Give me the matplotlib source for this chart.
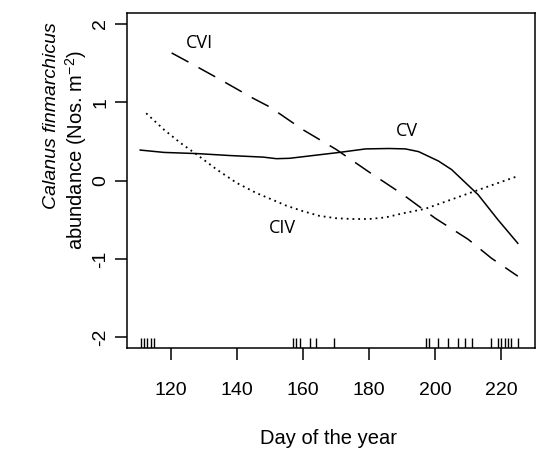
import matplotlib
matplotlib.use("Agg")
import matplotlib.pyplot as plt
import matplotlib.transforms as mtransforms

# ---- data ----
cvi_day = [120.3, 126, 135, 145, 150, 160, 170, 180, 190, 200, 210, 217, 225]
cvi_val = [1.63, 1.50, 1.29, 1.05, 0.94, 0.65, 0.40, 0.11, -0.17, -0.48, -0.75, -0.99, -1.22]

civ_day = [112.6, 118, 123, 128, 134, 140, 146, 150, 155, 160, 165, 170, 175, 180,
           185, 190, 197, 203, 209, 217, 224.5]
civ_val = [0.86, 0.65, 0.48, 0.33, 0.14, -0.03, -0.16, -0.23, -0.32, -0.39, -0.45, -0.48,
           -0.49, -0.49, -0.47, -0.42, -0.36, -0.27, -0.18, -0.06, 0.05]

cv_day = [110.8, 118, 128, 138, 148, 152, 156, 163, 171, 179, 186, 191, 195, 201, 205,
          208, 213, 219, 222, 225]
cv_val = [0.39, 0.36, 0.345, 0.32, 0.30, 0.28, 0.285, 0.32, 0.36, 0.405, 0.41, 0.405,
          0.37, 0.25, 0.14, 0.02, -0.18, -0.50, -0.65, -0.80]

rug_days = [111, 112, 113, 114, 115, 157, 158, 159, 162, 164, 169.5,
            197.2, 198, 201, 204, 207, 209, 211, 217, 219, 220, 221, 222, 223, 225]

x_ticks = [120, 140, 160, 180, 200, 220]
y_ticks = [-2, -1, 0, 1, 2]
y_ticklabels = ["-2", "-1", "0", "1", "2"]

labels = ["CVI", "CV", "CIV"]
label_pos = [(128.6, 1.76), (191.4, 0.63), (153.8, -0.61)]

# ---- figure ----
plt.rcParams['font.family'] = ['Liberation Sans', 'DejaVu Sans']
fig = plt.figure(figsize=(5.37, 4.5), dpi=100)
ax = fig.add_axes([127/537, 1-348/450, (535-127)/537, (348-13)/450])

lw = 1.1
ax.plot(cvi_day, cvi_val, color='black', lw=lw, dashes=(12.5, 7.5))
ax.plot(cv_day, cv_val, color='black', lw=lw, linestyle='-')
ax.plot(civ_day, civ_val, color='black', lw=1.3, dashes=(1.0, 2.2))

for t, (xx, yy) in zip(labels, label_pos):
    ax.text(xx, yy, t, fontsize=13, family=['Open Sans', 'DejaVu Sans'],
            ha='center', va='center')

trans = mtransforms.blended_transform_factory(ax.transData, ax.transAxes)
ax.vlines(rug_days, 0, 0.03, transform=trans, color='black', lw=1.0)

ax.set_xlim(106.8, 230.2)
ax.set_ylim(-2.137, 2.14)
ax.set_xticks(x_ticks)
ax.set_xticklabels([str(v) for v in x_ticks])
ax.set_yticks(y_ticks)
ax.set_yticklabels(y_ticklabels, rotation=90, va='center')

ax.tick_params(axis='both', direction='out', length=8.6, width=1.1, labelsize=14)
ax.tick_params(axis='x', pad=16)
ax.tick_params(axis='y', pad=4)
for s in ax.spines.values():
    s.set_linewidth(1.1)

fig.text(329/537, 1-438/450, "Day of the year", fontsize=14.5, ha='center', va='center')
fig.text(52/537, 1-116/450, "Calanus finmarchicus", fontsize=14, style='italic',
         rotation=90, ha='center', va='center')
fig.text(76/537, 1-150/450, r"abundance (Nos. m$^{\mathregular{-2}}$)", fontsize=14.5,
         rotation=90, ha='center', va='center')

fig.savefig("out.png", dpi=100)
